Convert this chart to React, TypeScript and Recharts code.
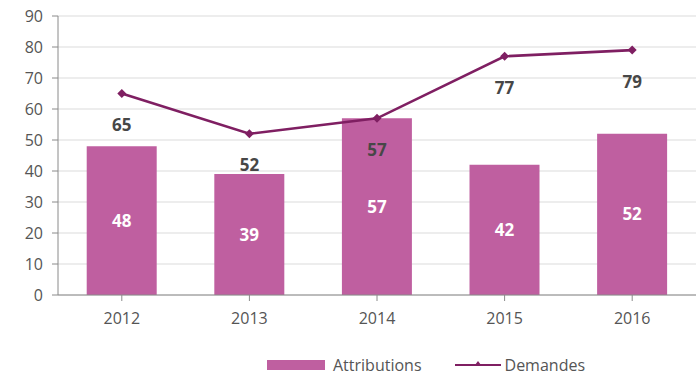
import {
  ComposedChart,
  Bar,
  Line,
  XAxis,
  YAxis,
  CartesianGrid,
  Legend,
  LabelList,
} from "recharts";

const YEARS = ["2012", "2013", "2014", "2015", "2016"];
const ATTRIBUTIONS = [48, 39, 57, 42, 52];
const DEMANDES = [65, 52, 57, 77, 79];
const Y_TICKS = [0, 10, 20, 30, 40, 50, 60, 70, 80, 90];

const BAR_COLOR = "#bf5fa0";
const LINE_COLOR = "#7f1f62";
const AXIS_COLOR = "#8a8a8a";
const TEXT_COLOR = "#555555";
const FONT = "'Open Sans', 'DejaVu Sans', sans-serif";

const data = YEARS.map((year, i) => ({
  year,
  attributions: ATTRIBUTIONS[i],
  demandes: DEMANDES[i],
}));

function Diamond(props: any) {
  const { cx, cy } = props;
  if (cx == null || cy == null) return null;
  const r = 4.5;
  return (
    <path
      d={`M${cx},${cy - r}L${cx + r},${cy}L${cx},${cy + r}L${cx - r},${cy}Z`}
      fill={LINE_COLOR}
    />
  );
}

function DemandeLabel(props: any) {
  const { x, y, value } = props;
  return (
    <text
      x={x}
      y={y + 31}
      textAnchor="middle"
      dominantBaseline="central"
      fontSize={17}
      fontWeight={700}
      fill="#474747"
      fontFamily={FONT}
    >
      {value}
    </text>
  );
}

function LegendContent() {
  return (
    <div
      style={{
        display: "flex",
        alignItems: "center",
        paddingLeft: 259,
        paddingTop: 14,
        height: 26,
        fontFamily: FONT,
        fontSize: 16,
        color: TEXT_COLOR,
      }}
    >
      <span
        style={{ display: "inline-block", width: 58, height: 10, background: BAR_COLOR }}
      />
      <span style={{ marginLeft: 8 }}>Attributions</span>
      <svg width={46} height={12} style={{ marginLeft: 33 }}>
        <line x1={0} y1={6} x2={46} y2={6} stroke={LINE_COLOR} strokeWidth={2} />
        <path d="M23,2L26,6L23,7L20,6Z" fill={LINE_COLOR} />
      </svg>
      <span style={{ marginLeft: 4 }}>Demandes</span>
    </div>
  );
}

export default function App() {
  return (
    <div style={{ position: "fixed", left: 0, top: 0, background: "#fff" }}>
      <ComposedChart
        width={696}
        height={378}
        data={data}
        margin={{ top: 16, right: 0, left: 8, bottom: 0 }}
        barCategoryGap="22.5%"
      >
        <CartesianGrid vertical={false} stroke="#dcdcdc" strokeWidth={1.2} />
        <XAxis
          dataKey="year"
          height={43}
          stroke={AXIS_COLOR}
          tickSize={6}
          tickMargin={12}
          tick={{ fontSize: 16, fill: TEXT_COLOR, fontFamily: FONT }}
          interval={0}
        />
        <YAxis
          width={50}
          domain={[0, 90]}
          ticks={Y_TICKS}
          stroke={AXIS_COLOR}
          tickSize={6}
          tickMargin={9}
          tick={{ fontSize: 16, fill: TEXT_COLOR, fontFamily: FONT }}
          interval={0}
        />
        <Legend verticalAlign="bottom" content={<LegendContent />} />
        <Bar dataKey="attributions" name="Attributions" fill={BAR_COLOR} isAnimationActive={false}>
          <LabelList
            dataKey="attributions"
            position="center"
            fill="#ffffff"
            fontSize={17}
            fontWeight={700}
            fontFamily={FONT}
          />
        </Bar>
        <Line
          dataKey="demandes"
          name="Demandes"
          stroke={LINE_COLOR}
          strokeWidth={2.6}
          dot={<Diamond />}
          activeDot={false}
          isAnimationActive={false}
        >
          <LabelList dataKey="demandes" content={<DemandeLabel />} />
        </Line>
      </ComposedChart>
    </div>
  );
}
